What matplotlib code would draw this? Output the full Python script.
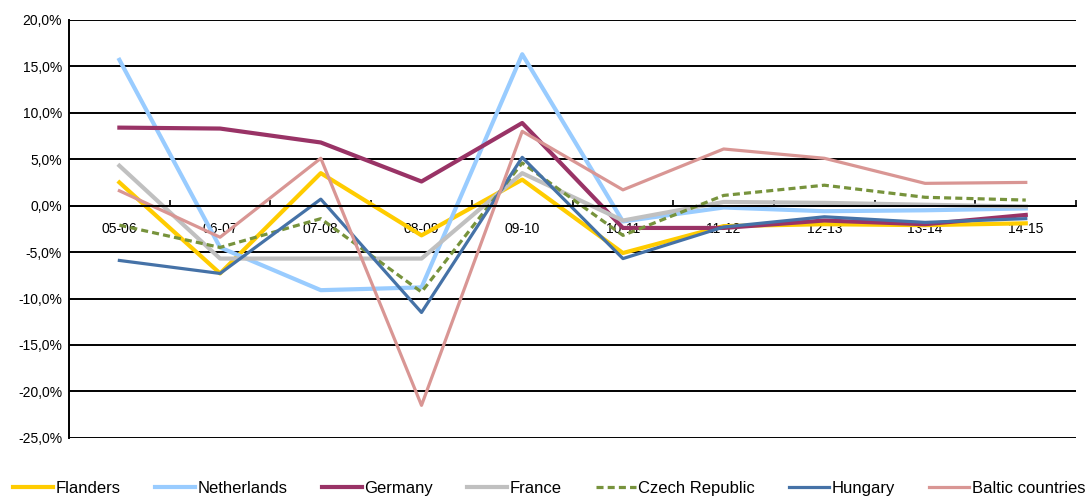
import numpy as np
import matplotlib.pyplot as plt
from matplotlib.ticker import FuncFormatter

plt.rcParams['font.family'] = ['Liberation Sans', 'DejaVu Sans']

# Data (growth rates in %)
periods = ['05-06', '06-07', '07-08', '08-09', '09-10', '10-11', '11-12', '12-13', '13-14', '14-15']

flanders = [2.5, -7.3, 3.5, -3.2, 2.8, -5.1, -2.2, -2.0, -2.1, -1.9]
netherlands = [15.7, -4.5, -9.1, -8.8, 16.3, -1.7, -0.2, -0.6, -0.5, -0.3]
germany = [8.4, 8.3, 6.8, 2.6, 8.9, -2.4, -2.4, -1.6, -2.0, -1.0]
france = [4.3, -5.7, -5.7, -5.7, 3.5, -1.6, 0.4, 0.3, 0.1, -0.1]
czech = [-2.1, -4.5, -1.4, -9.3, 4.6, -3.2, 1.1, 2.2, 0.9, 0.6]
hungary = [-5.9, -7.3, 0.7, -11.5, 5.2, -5.7, -2.3, -1.2, -1.8, -1.4]
baltic = [1.6, -3.4, 5.1, -21.5, 8.0, 1.7, 6.1, 5.1, 2.4, 2.5]

fig = plt.figure(figsize=(10.87, 4.97), dpi=100)
ax = fig.add_axes([0.0635, 0.119, 0.9265, 0.841])

x = np.arange(len(periods))
ax.plot(x, flanders, color='#FFCC00', lw=3.0, label='Flanders')
ax.plot(x, netherlands, color='#99CCFF', lw=3.0, label='Netherlands')
ax.plot(x, germany, color='#993366', lw=3.0, label='Germany')
ax.plot(x, france, color='#C0C0C0', lw=3.0, label='France')
ax.plot(x, czech, color='#77933C', lw=2.3, ls=(0, (2.2, 1.3)), label='Czech Republic')
ax.plot(x, hungary, color='#4572A7', lw=2.3, label='Hungary')
ax.plot(x, baltic, color='#D99694', lw=2.3, label='Baltic countries')

ax.set_xlim(-0.5, len(periods) - 0.5)
ax.set_ylim(-25, 20)
ax.set_yticks(np.arange(-25, 21, 5))
ax.yaxis.set_major_formatter(FuncFormatter(lambda v, p: f'{v:.1f}%'.replace('.', ',')))
ax.yaxis.grid(True, color='black', lw=1.4)
ax.set_axisbelow(True)

for s in ['top', 'right']:
    ax.spines[s].set_visible(False)
ax.spines['left'].set_linewidth(1.4)
ax.spines['bottom'].set_position(('data', 0))
ax.spines['bottom'].set_linewidth(1.4)

ax.set_xticks(x)
ax.set_xticklabels(periods)
ax.set_xticks(np.arange(-0.5, len(periods)), minor=True)
ax.tick_params(axis='x', which='major', length=0, pad=12, labelsize=10)
ax.tick_params(axis='x', which='minor', direction='in', length=4, width=1.2)
ax.tick_params(axis='y', length=0, labelsize=10, pad=5)

ax.legend(loc='upper center', bbox_to_anchor=(0.477, -0.068), ncol=7, frameon=False,
          fontsize=12, handlelength=2.4, handletextpad=0.15, columnspacing=2.05)

fig.savefig('out.png', dpi=100)
